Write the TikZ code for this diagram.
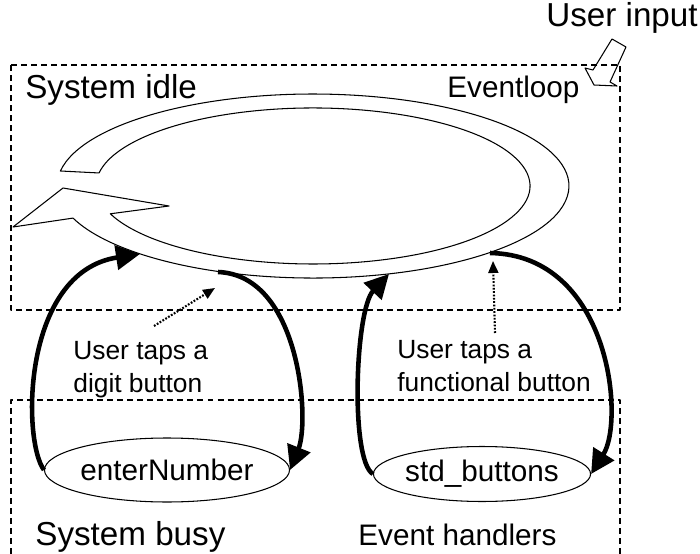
\documentclass[tikz,border=0pt]{standalone}
\usepackage{fontspec}
\setmainfont{Liberation Sans}
\usetikzlibrary{arrows.meta,shapes.geometric}

\begin{document}
\begin{tikzpicture}[x=0.02cm,y=-0.02cm,line join=round,
  box/.style={line width=0.85pt,dash pattern=on 3.4pt off 2.3pt},
  flow/.style={line width=2.6pt,-{Triangle[length=4.8mm,width=4.8mm]}},
  tap/.style={line width=1.2pt,dash pattern=on 1pt off 0.9pt,-{Triangle[length=2.4mm,width=2mm]}},
  handler/.style={draw,ellipse,line width=0.6pt,inner sep=0pt,font=\fontsize{16.9}{20}\selectfont},
  big/.style={anchor=base west,inner sep=0pt,font=\fontsize{18.9}{22}\selectfont},
  mid/.style={anchor=base west,inner sep=0pt,font=\fontsize{16.9}{20}\selectfont},
  note/.style={anchor=west,align=left,inner sep=0pt,font=\fontsize{15}{18.6}\selectfont}]
\useasboundingbox (0,0) rectangle (700,554);
\draw[box] (11,65) rectangle (620,310);
\draw[box] (11,554) -- (11,400) -- (620,400) -- (620,554);
\draw[line width=0.6pt] (60.4,171) arc[start angle=189.4,end angle=519.6,x radius=256,y radius=92]
  -- (13,227) -- (63,188) -- (169,206) -- (110.3,213.8)
  arc[start angle=519.1,end angle=189.6,x radius=217,y radius=78] -- cycle;
\draw[line width=0.6pt] (612,39) -- (626,47) -- (610,82) -- (617,86) -- (594,85) -- (585,68) -- (593,70) -- cycle;
\node[big] (idle) at (25,99) {System idle};
\node[big] (input) at (546,27) {User input};
\node[mid] (loop) at (447,98) {Eventloop};
\node[big] (busy) at (35,545) {System busy};
\node[mid] (handlers) at (358,545) {Event handlers};
\node[handler,minimum width=3.8cm,minimum height=1.28cm] (enter) at (167,470) {enterNumber};
\node[handler,minimum width=3.5cm,minimum height=1.1cm] (std) at (482,474) {std\_buttons};
\node[note] (tapDigit) at (73,370) {User taps a\\digit button};
\node[note] (tapFunc) at (397,366) {User taps a\\functional button};
\coordinate (loopA) at (140,254);
\coordinate (loopB) at (218,272);
\coordinate (loopC) at (389,274);
\coordinate (loopD) at (490,253);
\coordinate (digitTail) at (154,326);
\coordinate (digitHead) at (215,288);
\coordinate (funcTail) at (495,333);
\coordinate (funcHead) at (493,261);
\draw[flow] (enter.west) .. controls (22,440) and (22,272) .. (loopA);
\draw[flow] (loopB) .. controls (300,275) and (310,420) .. (enter.east);
\draw[flow] (std.west) .. controls (350,460) and (355,310) .. (loopC);
\draw[flow] (loopD) .. controls (610,255) and (625,420) .. (std.east);
\draw[tap] (digitTail) -- (digitHead);
\draw[tap] (funcTail) -- (funcHead);
\end{tikzpicture}
\end{document}
